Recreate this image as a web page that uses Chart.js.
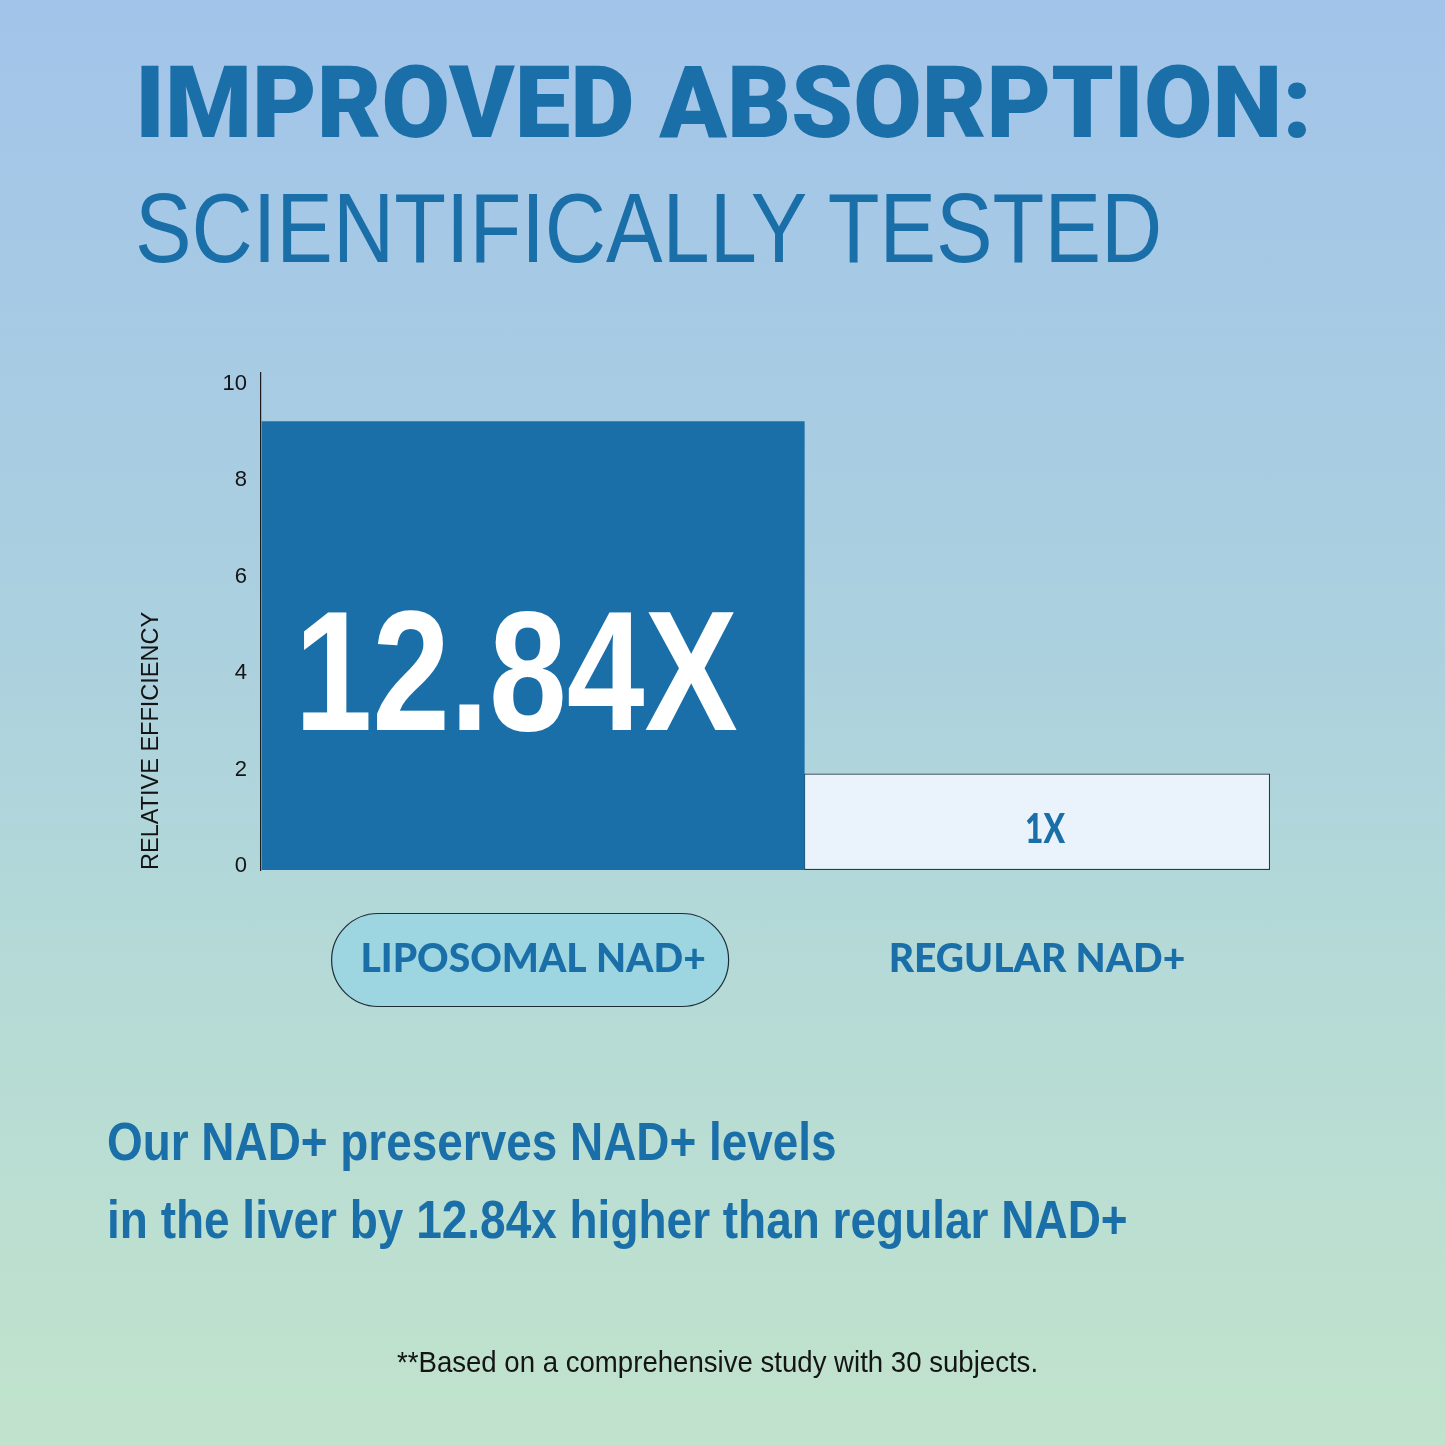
<!DOCTYPE html>
<html>
<head>
<meta charset="utf-8">
<script src="https://cdn.jsdelivr.net/npm/chart.js@4.4.1/dist/chart.umd.min.js"></script>
<style>
  html, body { margin: 0; padding: 0; }
  body {
    width: 1445px; height: 1445px; position: relative; overflow: hidden;
    background: linear-gradient(180deg, #a2c4ea 0%, #aacfe0 40%, #b6dbd6 70%, #c1e3cc 100%);
  }
  #chartBox { position: absolute; left: 0; top: 0; width: 1445px; height: 1445px; }
  .txt { position: absolute; white-space: nowrap; line-height: 1; transform-origin: 0 0; color: #1a6fa8; }
</style>
</head>
<body>
<div id="chartBox"><canvas id="nadChart" width="1445" height="1445"></canvas></div>

<div class="txt" id="head1" style="font: 900 101px Roboto;">IMPROVED ABSORPTION:</div>
<div class="txt" id="head2" style="font: 400 98px 'Liberation Sans Narrow', 'Liberation Sans';">SCIENTIFICALLY TESTED</div>
<div class="txt" id="body1" style="font: bold 53px 'Liberation Sans Narrow', 'Liberation Sans';">Our NAD+ preserves NAD+ levels</div>
<div class="txt" id="body2" style="font: bold 53px 'Liberation Sans Narrow', 'Liberation Sans';">in the liver by 12.84x higher than regular NAD+</div>
<div class="txt" id="note" style="font: 400 30px 'Liberation Sans Narrow', 'Liberation Sans'; color: #141414;">**Based on a comprehensive study with 30 subjects.</div>

<script>
// chart data
const categories = ['LIPOSOMAL NAD+', 'REGULAR NAD+'];
const efficiency = [9.3, 2.0];
const barLabels = ['12.84X', '1X'];
const yTicks = [0, 2, 4, 6, 8, 10];

const blue = '#1a6fa8';
const narrow = "'Liberation Sans Narrow', 'Liberation Sans', Arial, sans-serif";

// per bar look (widths are fractions of the x step)
const barStyles = [
  { fill: blue, border: blue, borderWidth: 0, pct: 1.0776 },
  { fill: '#eaf3fb', border: '#2b3a46', borderWidth: 1.2, pct: 0.9248 }
];
const labelStyles = [
  { color: '#ffffff', font: 'bold 170px ' + narrow, width: 443, dx: -17, base: 84 },
  { color: blue, font: "900 41px Lato", width: 40, dx: 8, base: 21 }
];

// place html text on a baseline and squeeze it to a width
function fitText(id, o) {
  const el = document.getElementById(id);
  const mark = document.createElement('span');
  mark.style.cssText = 'display:inline-block;width:0;height:0;vertical-align:baseline';
  el.appendChild(mark);
  const baseOff = mark.offsetTop;
  const w = el.offsetWidth;
  const sx = o.width / w;
  const left = o.center !== undefined ? o.center - o.width / 2 : o.left;
  el.style.left = left + 'px';
  el.style.top = (o.baseline - baseOff) + 'px';
  el.style.transform = 'scaleX(' + sx + ')';
}

const pillPlugin = {
  id: 'pill',
  beforeDraw(chart) {
    const xs = chart.scales.x;
    const ctx = chart.ctx;
    const cx = xs.getPixelForValue(0) - 3;
    const cy = xs.top + 66 + 24;
    const w = 397, h = 93, r = h / 2;
    ctx.save();
    ctx.beginPath();
    ctx.moveTo(cx - w / 2 + r, cy - r);
    ctx.lineTo(cx + w / 2 - r, cy - r);
    ctx.arc(cx + w / 2 - r, cy, r, -Math.PI / 2, Math.PI / 2);
    ctx.lineTo(cx - w / 2 + r, cy + r);
    ctx.arc(cx - w / 2 + r, cy, r, Math.PI / 2, Math.PI * 1.5);
    ctx.closePath();
    ctx.fillStyle = '#9dd5e1';
    ctx.fill();
    ctx.lineWidth = 1.2;
    ctx.strokeStyle = '#1f2d36';
    ctx.stroke();
    ctx.restore();
  }
};

const barTextPlugin = {
  id: 'barText',
  afterDatasetsDraw(chart) {
    const ctx = chart.ctx;
    chart.data.datasets.forEach((ds, i) => {
      const el = chart.getDatasetMeta(i).data[0];
      if (!el) return;
      const p = el.getProps(['x', 'y', 'base'], true);
      const st = labelStyles[i];
      ctx.save();
      ctx.font = st.font;
      ctx.fillStyle = st.color;
      ctx.textAlign = 'center';
      ctx.textBaseline = 'alphabetic';
      const sx = st.width / ctx.measureText(barLabels[i]).width;
      ctx.translate(p.x + st.dx, (p.y + p.base) / 2 + st.base);
      ctx.scale(sx, 1);
      ctx.fillText(barLabels[i], 0, 0);
      ctx.restore();
    });
  }
};

function build() {
  const ctxNad = document.getElementById('nadChart');
  new Chart(ctxNad, {
    type: 'bar',
    data: {
      datasets: categories.map((c, i) => ({
        label: c,
        data: [{ x: i, y: efficiency[i] }],
        backgroundColor: barStyles[i].fill,
        borderColor: barStyles[i].border,
        borderWidth: barStyles[i].borderWidth,
        borderSkipped: false,
        categoryPercentage: 1,
        barPercentage: barStyles[i].pct
      }))
    },
    options: {
      responsive: false,
      animation: false,
      events: [],
      datasets: { bar: { grouped: false } },
      layout: { padding: { top: 373, right: 156, bottom: 455, left: 0 } },
      plugins: {
        legend: { display: false },
        tooltip: { enabled: false }
      },
      scales: {
        x: {
          type: 'linear',
          offset: false,
          min: -0.54,
          max: 1.5,
          afterBuildTicks: axis => { axis.ticks = categories.map((c, i) => ({ value: i })); },
          afterFit: axis => { axis.height = 120; },
          grid: { display: false, drawTicks: false, offset: false },
          border: { display: false },
          ticks: {
            padding: 66,
            color: blue,
            font: { family: 'Lato', weight: 900, size: 39 },
            callback: v => categories[v]
          }
        },
        y: {
          min: 0,
          max: 10.3,
          afterBuildTicks: axis => { axis.ticks = yTicks.map(v => ({ value: v })); },
          afterFit: axis => { axis.width = 261; },
          grid: { display: false, drawTicks: false },
          border: { display: true, color: '#1c1c1c', width: 1.2 },
          ticks: {
            padding: 14,
            labelOffset: -4,
            color: '#141414',
            font: { family: "'Liberation Sans', Arial, sans-serif", size: 22 }
          },
          title: {
            display: true,
            text: 'RELATIVE EFFICIENCY',
            align: 'start',
            color: '#141414',
            padding: { top: 137, bottom: 0 },
            font: { family: narrow, size: 23.5 }
          }
        }
      }
    },
    plugins: [pillPlugin, barTextPlugin]
  });

  fitText('head1', { left: 135, baseline: 137, width: 1177 });
  fitText('head2', { left: 135, baseline: 262, width: 1027 });
  fitText('body1', { left: 107, baseline: 1160, width: 730 });
  fitText('body2', { left: 107, baseline: 1238, width: 1021 });
  fitText('note', { center: 717.5, baseline: 1372, width: 641 });
}

Promise.all([
  document.fonts.load('900 40px Lato'),
  document.fonts.load('bold 170px "Liberation Sans"'),
  document.fonts.load('22px "Liberation Sans"'),
  document.fonts.load('900 101px Roboto')
]).catch(() => {}).then(build);
</script>
</body>
</html>
